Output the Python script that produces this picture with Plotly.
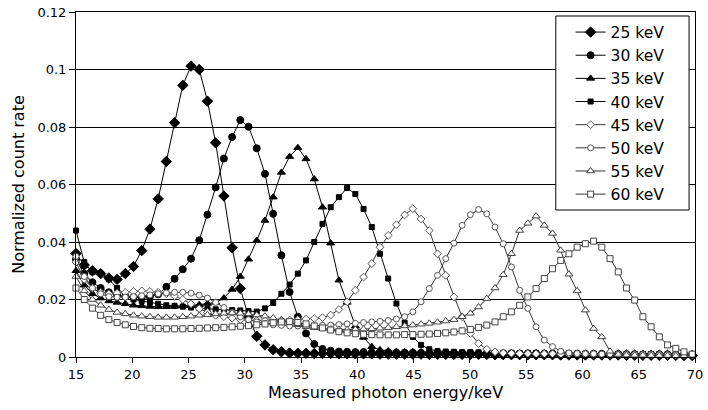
import plotly.graph_objects as go

# Measured photon energy grid (keV)
ENERGY = [15.00, 15.73, 16.46, 17.19, 17.92, 18.65, 19.38, 20.11, 20.84, 21.57,
          22.30, 23.03, 23.76, 24.49, 25.22, 25.95, 26.68, 27.41, 28.14, 28.87,
          29.60, 30.33, 31.06, 31.79, 32.52, 33.25, 33.98, 34.71, 35.44, 36.17,
          36.90, 37.63, 38.36, 39.09, 39.82, 40.55, 41.28, 42.01, 42.74, 43.47,
          44.20, 44.93, 45.66, 46.39, 47.12, 47.85, 48.58, 49.31, 50.04, 50.77,
          51.50, 52.23, 52.96, 53.69, 54.42, 55.15, 55.88, 56.61, 57.34, 58.07,
          58.80, 59.53, 60.26, 60.99, 61.72, 62.45, 63.18, 63.91, 64.64, 65.37,
          66.10, 66.83, 67.56, 68.29, 69.02, 69.75]

SERIES_NAMES = ["25 keV", "30 keV", "35 keV", "40 keV", "45 keV", "50 keV", "55 keV", "60 keV"]

RATE_25 = [0.036, 0.032, 0.030, 0.029, 0.0275, 0.027, 0.029, 0.0315, 0.037, 0.0445,
           0.055, 0.068, 0.0815, 0.0945, 0.1012, 0.1000, 0.089, 0.0745, 0.056, 0.038,
           0.0238, 0.014, 0.0072, 0.0042, 0.0025, 0.0018, 0.0014, 0.0013, 0.0013, 0.0012,
           0.0012, 0.0012, 0.0011, 0.0011, 0.0011, 0.0011, 0.0011, 0.0010, 0.0010, 0.0010,
           0.0010, 0.0010, 0.0010, 0.0009, 0.0009, 0.0009, 0.0009, 0.0009, 0.0009, 0.0009,
           0.0009, 0.0008, 0.0008, 0.0008, 0.0008, 0.0008, 0.0008, 0.0008, 0.0008, 0.0007,
           0.0007, 0.0007, 0.0007, 0.0007, 0.0007, 0.0007, 0.0007, 0.0006, 0.0006, 0.0006,
           0.0006, 0.0006, 0.0006, 0.0006, 0.0005, 0.0005]

RATE_30 = [0.034, 0.029, 0.026, 0.024, 0.0225, 0.0215, 0.021, 0.0208, 0.0208, 0.021,
           0.0218, 0.0244, 0.0272, 0.0305, 0.0342, 0.0406, 0.0495, 0.059, 0.069, 0.0765,
           0.0824, 0.0801, 0.0726, 0.0637, 0.0498, 0.0354, 0.0226, 0.0140, 0.0082, 0.0045,
           0.0028, 0.0022, 0.0019, 0.0018, 0.0017, 0.0017, 0.0016, 0.0016, 0.0016, 0.0015,
           0.0015, 0.0015, 0.0015, 0.0014, 0.0014, 0.0014, 0.0014, 0.0013, 0.0013, 0.0013,
           0.0013, 0.0013, 0.0012, 0.0012, 0.0012, 0.0012, 0.0012, 0.0011, 0.0011, 0.0011,
           0.0011, 0.0011, 0.0010, 0.0010, 0.0010, 0.0010, 0.0010, 0.0009, 0.0009, 0.0009,
           0.0009, 0.0009, 0.0008, 0.0008, 0.0008, 0.0008]

RATE_35 = [0.030, 0.025, 0.022, 0.0205, 0.0195, 0.019, 0.0185, 0.018, 0.0178, 0.0176,
           0.0175, 0.0175, 0.0176, 0.0178, 0.018, 0.0182, 0.0186, 0.019, 0.0205, 0.0235,
           0.028, 0.034, 0.0405, 0.0475, 0.0556, 0.0642, 0.0697, 0.0728, 0.0689, 0.0619,
           0.0521, 0.0396, 0.0267, 0.0190, 0.0107, 0.0068, 0.0036, 0.0025, 0.0021, 0.0019,
           0.0018, 0.0018, 0.0017, 0.0017, 0.0016, 0.0016, 0.0016, 0.0015, 0.0015, 0.0015,
           0.0014, 0.0014, 0.0014, 0.0014, 0.0013, 0.0013, 0.0013, 0.0013, 0.0012, 0.0012,
           0.0012, 0.0012, 0.0011, 0.0011, 0.0011, 0.0011, 0.0010, 0.0010, 0.0010, 0.0010,
           0.0010, 0.0009, 0.0009, 0.0009, 0.0009, 0.0009]

RATE_40 = [0.044, 0.033, 0.0295, 0.029, 0.027, 0.024, 0.0215, 0.020, 0.0195, 0.019,
           0.0185, 0.018, 0.0178, 0.0175, 0.0172, 0.017, 0.0168, 0.0166, 0.0165, 0.0163,
           0.0162, 0.016, 0.0158, 0.0169, 0.0188, 0.0220, 0.0252, 0.0290, 0.0336, 0.0400,
           0.0463, 0.0521, 0.0556, 0.0588, 0.0567, 0.0515, 0.0452, 0.0359, 0.0273, 0.0186,
           0.0119, 0.0070, 0.0042, 0.0027, 0.0021, 0.0019, 0.0018, 0.0017, 0.0017, 0.0016,
           0.0016, 0.0015, 0.0015, 0.0015, 0.0014, 0.0014, 0.0014, 0.0013, 0.0013, 0.0013,
           0.0013, 0.0012, 0.0012, 0.0012, 0.0012, 0.0011, 0.0011, 0.0011, 0.0011, 0.0010,
           0.0010, 0.0010, 0.0010, 0.0010, 0.0009, 0.0009]

RATE_45 = [0.033, 0.027, 0.024, 0.0225, 0.022, 0.0222, 0.0225, 0.0228, 0.023, 0.0228,
           0.0225, 0.022, 0.0212, 0.020, 0.0185, 0.0168, 0.0155, 0.0145, 0.014, 0.0135,
           0.013, 0.0128, 0.0127, 0.0127, 0.0127, 0.0128, 0.0129, 0.013, 0.0132, 0.0134,
           0.0137, 0.0146, 0.0165, 0.0192, 0.0232, 0.0278, 0.0325, 0.0382, 0.0423, 0.0460,
           0.0494, 0.0516, 0.0480, 0.0440, 0.0359, 0.0284, 0.0209, 0.0140, 0.0082, 0.0047,
           0.0027, 0.0018, 0.0014, 0.0013, 0.0012, 0.0012, 0.0011, 0.0011, 0.0011, 0.0010,
           0.0010, 0.0010, 0.0010, 0.0009, 0.0009, 0.0009, 0.0009, 0.0008, 0.0008, 0.0008,
           0.0008, 0.0008, 0.0007, 0.0007, 0.0007, 0.0007]

RATE_50 = [0.035, 0.028, 0.024, 0.022, 0.021, 0.0208, 0.0208, 0.021, 0.0213, 0.0216,
           0.022, 0.0223, 0.0225, 0.0225, 0.0222, 0.0215, 0.0205, 0.019, 0.0172, 0.0155,
           0.014, 0.013, 0.0122, 0.0116, 0.0112, 0.011, 0.0108, 0.0108, 0.0108, 0.0109,
           0.011, 0.0111, 0.0113, 0.0115, 0.0117, 0.012, 0.0122, 0.0124, 0.0127, 0.0132,
           0.014, 0.0157, 0.0192, 0.0238, 0.0284, 0.0342, 0.0396, 0.0458, 0.0495, 0.0513,
           0.0498, 0.0452, 0.0394, 0.0313, 0.0232, 0.0169, 0.0105, 0.0059, 0.0036, 0.0020,
           0.0014, 0.0012, 0.0011, 0.0011, 0.0010, 0.0010, 0.0010, 0.0009, 0.0009, 0.0009,
           0.0009, 0.0008, 0.0008, 0.0008, 0.0008, 0.0008]

RATE_55 = [0.028, 0.023, 0.020, 0.018, 0.0165, 0.0155, 0.015, 0.0145, 0.0142, 0.014,
           0.0138, 0.0138, 0.0138, 0.014, 0.0142, 0.0145, 0.0147, 0.015, 0.0152, 0.0153,
           0.0152, 0.015, 0.0146, 0.0142, 0.0136, 0.0128, 0.012, 0.0112, 0.0106, 0.0102,
           0.0099, 0.0097, 0.0096, 0.0095, 0.0096, 0.0097, 0.0098, 0.010, 0.0102, 0.0105,
           0.0108, 0.0111, 0.0114, 0.0117, 0.0121, 0.0125, 0.0130, 0.0140, 0.0152, 0.0174,
           0.0203, 0.0240, 0.0286, 0.0359, 0.0440, 0.0465, 0.0490, 0.0458, 0.0430, 0.0371,
           0.0288, 0.0230, 0.0163, 0.0099, 0.0070, 0.0020, 0.0009, 0.0007, 0.0006, 0.0006,
           0.0005, 0.0005, 0.0005, 0.0004, 0.0004, 0.0004]

RATE_60 = [0.024, 0.020, 0.017, 0.0145, 0.013, 0.012, 0.0112, 0.0106, 0.0102, 0.0100,
           0.0099, 0.0098, 0.0098, 0.0098, 0.0099, 0.0100, 0.0101, 0.0102, 0.0103, 0.0105,
           0.0107, 0.0109, 0.0112, 0.0115, 0.0119, 0.0122, 0.0123, 0.0120, 0.0115, 0.0108,
           0.0101, 0.0094, 0.0088, 0.0084, 0.0081, 0.0079, 0.0078, 0.0077, 0.0077, 0.0077,
           0.0078, 0.0078, 0.0079, 0.0080, 0.0082, 0.0084, 0.0087, 0.0091, 0.0096, 0.0103,
           0.0111, 0.0122, 0.0140, 0.0157, 0.0180, 0.0209, 0.0238, 0.0273, 0.0307, 0.0336,
           0.0359, 0.0382, 0.0394, 0.0403, 0.0382, 0.0342, 0.0296, 0.0240, 0.0198, 0.0140,
           0.0105, 0.0070, 0.0042, 0.0030, 0.0018, 0.0010]

SERIES_VALUES = [RATE_25, RATE_30, RATE_35, RATE_40, RATE_45, RATE_50, RATE_55, RATE_60]
for vals in SERIES_VALUES:
    assert len(vals) == len(ENERGY), len(vals)

# Marker styles (symbol, size, fill, outline, line colour)
STYLES = [
    ("diamond", 8, "black", "black", "black"),
    ("circle", 7, "black", "black", "black"),
    ("triangle-up", 7, "black", "black", "black"),
    ("square", 5, "black", "black", "black"),
    ("diamond", 6, "white", "#555555", "#333333"),
    ("circle", 6, "white", "#555555", "#333333"),
    ("triangle-up", 7, "white", "#444444", "#333333"),
    ("square", 6, "white", "#444444", "#333333"),
]

fig = go.Figure()
for name, vals, (sym, size, fill, outline, lcol) in zip(SERIES_NAMES, SERIES_VALUES, STYLES):
    fig.add_trace(go.Scatter(
        x=ENERGY, y=vals, name=name, mode="lines+markers",
        line=dict(color=lcol, width=1),
        marker=dict(symbol=sym, size=size, color=fill, line=dict(color=outline, width=1)),
        cliponaxis=False,
    ))

L, R, T, B = 76, 5, 12, 53
W, H = 708, 410
pw, ph = W - L - R, H - T - B

def px_to_paper_x(p):
    return (p - L) / pw

def px_to_paper_y(p):
    return (H - B - p) / ph

fig.update_layout(
    width=W, height=H,
    margin=dict(l=L, r=R, t=T, b=B),
    paper_bgcolor="white", plot_bgcolor="white",
    font=dict(family="DejaVu Sans", size=13, color="black"),
    showlegend=True,
    legend=dict(
        x=px_to_paper_x(577), y=px_to_paper_y(15.5), xanchor="left", yanchor="top",
        bgcolor="rgba(0,0,0,0)", borderwidth=0,
        font=dict(family="DejaVu Sans", size=15.5, color="black"),
        tracegroupgap=0,
    ),
    shapes=[dict(
        type="rect", xref="paper", yref="paper",
        x0=px_to_paper_x(562), x1=px_to_paper_x(697),
        y0=px_to_paper_y(210), y1=px_to_paper_y(16),
        line=dict(color="black", width=1), fillcolor="white", layer="above",
    )],
    xaxis=dict(
        range=[15, 70], tick0=15, dtick=5, showgrid=False, zeroline=False,
        showline=True, linecolor="black", linewidth=1, mirror=True,
        ticks="outside", ticklen=5, tickcolor="black",
        tickfont=dict(size=13), ticklabeloverflow="allow",
        title=dict(text="Measured photon energy/keV", font=dict(size=16), standoff=6),
    ),
    yaxis=dict(
        range=[0, 0.12], tick0=0, dtick=0.02, showgrid=True, gridcolor="black", gridwidth=1,
        zeroline=False, showline=True, linecolor="black", linewidth=1, mirror=True,
        ticks="outside", ticklen=6, tickcolor="black",
        tickfont=dict(size=13),
        title=dict(text="Normalized count rate", font=dict(size=16), standoff=8),
    ),
)

fig.write_html("out.html")
